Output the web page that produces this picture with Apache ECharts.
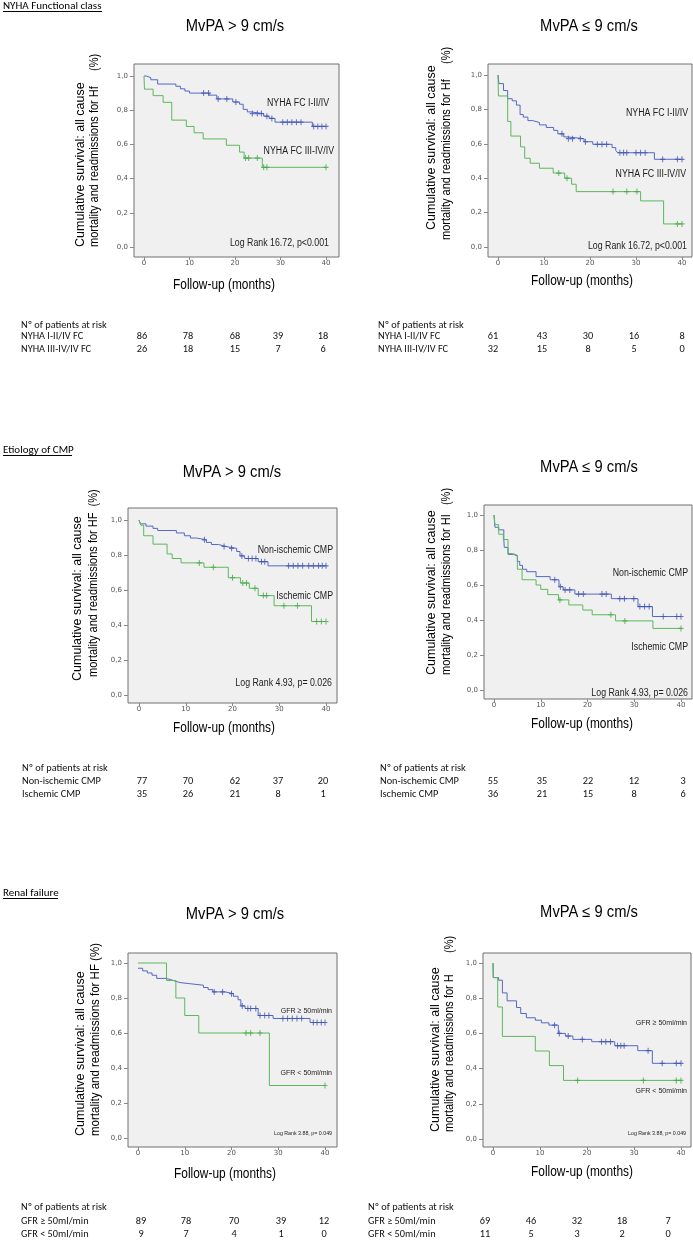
<!DOCTYPE html>
<html><head><meta charset="utf-8">
<script src="https://cdn.jsdelivr.net/npm/echarts@6/dist/echarts.min.js"></script>
<style>html,body{margin:0;padding:0;background:#fff}#c{width:693px;height:1240px}</style>
</head><body><div id="c"></div>
<script>
// ---------- DATA ----------
const xTicks = [0, 10, 20, 30, 40];
const yTicks = [0, 0.2, 0.4, 0.6, 0.8, 1.0];

// Panel 1: NYHA, MvPA > 9
const p1Blue = [[0,1],[0.5,0.99],[1.5,0.978],[3,0.953],[7,0.94],[8,0.925],[9,0.912],[10,0.9],[14.3,0.888],[16,0.866],[19.5,0.848],[21,0.835],[21.8,0.805],[22.7,0.79],[23.5,0.78],[26.3,0.765],[27.5,0.752],[28.8,0.73],[37,0.705]];
const p1BlueCens = [13.1,14.2,16.3,18.2,20.2,23.8,24.9,25.8,27,28.1,30.5,31.5,32.5,33.5,34.5,37.3,38.2,39.1,40];
const p1Green = [[0,1],[0.1,0.923],[2,0.885],[4.2,0.846],[6.1,0.742],[9.3,0.705],[11,0.668],[13,0.632],[18.1,0.595],[21,0.555],[22,0.52],[26,0.466]];
const p1GreenCens = [22.3,23,24.9,26.3,27,40];
// Panel 2: NYHA, MvPA <= 9
const p2Blue = [[0,1],[0.2,0.95],[1.2,0.91],[2.1,0.862],[3.1,0.85],[4,0.825],[4.8,0.77],[5.5,0.755],[6.5,0.735],[7.5,0.724],[9,0.71],[10.5,0.695],[12.1,0.678],[13,0.658],[14.3,0.64],[15,0.63],[18.7,0.612],[20.6,0.597],[24.8,0.578],[25.6,0.562],[26,0.548],[34,0.51]];
const p2BlueCens = [13.9,15.3,16.2,17.9,19,21.6,22.6,23.6,26.5,27.3,28,30,31,32,35.8,39,40];
const p2Green = [[0,1],[0.1,0.878],[2.1,0.73],[2.8,0.645],[4.9,0.582],[5.8,0.516],[7,0.487],[9,0.458],[12,0.43],[14.5,0.40],[16,0.365],[17,0.322],[31,0.268],[36,0.134]];
const p2GreenCens = [13.2,15,25,28,30.2,39,40];
// Panel 3: Etiology, MvPA > 9
const p3Blue = [[0,1],[0.3,0.978],[1.5,0.965],[3,0.952],[4,0.94],[8,0.926],[9.7,0.91],[11,0.897],[12.3,0.887],[14.4,0.872],[15.5,0.86],[17,0.849],[18.5,0.838],[20.9,0.82],[21.6,0.795],[22.6,0.78],[25.5,0.762],[27.6,0.738]];
const p3BlueCens = [14,18.2,19.8,22,23.4,24.2,25,26.2,26.9,32,33,34,35,36.3,37.3,38.4,39.2,40];
const p3Green = [[0,1],[0.4,0.97],[1,0.91],[3,0.862],[6,0.806],[7.1,0.78],[9,0.755],[13.9,0.73],[19.1,0.67],[21.7,0.64],[23.6,0.61],[25.5,0.568],[28.9,0.51],[36.9,0.42]];
const p3GreenCens = [12.9,15.9,20,22.2,23,24.8,26.6,27.3,31,33.9,38,39,40];
// Panel 4: Etiology, MvPA <= 9
const p4Blue = [[0,1],[0.2,0.93],[1,0.915],[2.1,0.86],[2.2,0.815],[3,0.775],[4.2,0.765],[5,0.735],[5.5,0.712],[6.1,0.69],[7,0.676],[9,0.648],[12,0.63],[13.9,0.59],[14.8,0.572],[17.3,0.548],[25.1,0.522],[30.8,0.477],[33.9,0.42]];
const p4BlueCens = [13,14.2,15.2,16.2,18.1,19.1,23.1,24,26.9,27.9,29.9,31.2,32.2,33.2,36.2,39.1,40];
const p4Green = [[0,1],[0.2,0.945],[1,0.89],[2,0.86],[3,0.78],[4,0.77],[5,0.69],[6,0.63],[9,0.6],[10,0.575],[11.5,0.545],[13.8,0.515],[16,0.486],[19,0.457],[21,0.43],[26,0.395],[34,0.352]];
const p4GreenCens = [14.1,25,28,40];
// Panel 5: Renal, MvPA > 9
const p5Blue = [[0,0.97],[1,0.955],[2,0.943],[3,0.93],[4,0.912],[6,0.905],[7,0.896],[8,0.888],[9,0.882],[11,0.873],[14,0.86],[15,0.848],[16,0.835],[18.6,0.825],[20.4,0.81],[21.4,0.79],[22,0.755],[22.9,0.74],[25.7,0.70],[28.9,0.683],[36.8,0.66]];
const p5BlueCens = [16.3,18.1,20,22.3,23.5,24.1,25.2,26.1,27.1,28,31,32,33,34,35,37.5,38.3,39.2,40];
const p5Green = [[0,1],[6.1,0.9],[8.1,0.8],[10,0.7],[13,0.6],[28.1,0.3]];
const p5GreenCens = [23.1,24.1,26.1,40];
// Panel 6: Renal, MvPA <= 9
const p6Blue = [[0,1],[0.05,0.917],[1.2,0.902],[2,0.83],[3,0.785],[5,0.747],[5.9,0.713],[7.1,0.689],[9,0.675],[10.3,0.66],[11.9,0.647],[13.9,0.60],[15.4,0.585],[17,0.566],[21,0.553],[25.9,0.53],[30.8,0.502],[33.9,0.43]];
const p6BlueCens = [13.1,14.1,16,19,23.1,24,25,26.5,27.2,27.9,33,36,39,40];
const p6Green = [[0,1],[0.05,0.917],[1,0.75],[2,0.583],[9,0.5],[12,0.417],[15,0.333]];
const p6GreenCens = [18,32,39,40];

// Risk tables
const riskHeader = 'Nº of patients at risk';
const s1Groups = ['NYHA I-II/IV FC', 'NYHA III-IV/IV FC'];
const s1LeftA = [86,78,68,39,18], s1LeftB = [26,18,15,7,6];
const s1RightA = [61,43,30,16,8], s1RightB = [32,15,8,5,0];
const s2Groups = ['Non-ischemic CMP', 'Ischemic CMP'];
const s2LeftA = [77,70,62,37,20], s2LeftB = [35,26,21,8,1];
const s2RightA = [55,35,22,12,3], s2RightB = [36,21,15,8,6];
const s3Groups = ['GFR ≥ 50ml/min', 'GFR < 50ml/min'];
const s3LeftA = [89,78,70,39,12], s3LeftB = [9,7,4,1,0];
const s3RightA = [69,46,32,18,7], s3RightB = [11,5,3,2,0];

// Texts
const sectionTitles = ['NYHA Functional class', 'Etiology of CMP', 'Renal failure'];
const panelTitles = ['MvPA > 9 cm/s', 'MvPA ≤ 9 cm/s'];
const xTitle = 'Follow-up (months)';
const yTitle1 = 'Cumulative survival: all cause';
const yTitle2 = ['mortality and readmissions for Hf     (%)', 'mortality and readmissions for Hf     (%)',
  'mortality and readmissions for HF  (%)', 'mortality and readmissions for HI   (%)',
  'mortality and readmissions for HF (%)', 'mortality and readmissions for H       (%)'];
const groupLabels = [
  ['NYHA FC I-II/IV','NYHA FC III-IV/IV'], ['NYHA FC I-II/IV','NYHA FC III-IV/IV'],
  ['Non-ischemic CMP','Ischemic CMP'], ['Non-ischemic CMP','Ischemic CMP'],
  ['GFR ≥ 50ml/min','GFR < 50ml/min'], ['GFR ≥ 50ml/min','GFR < 50ml/min']];
const logRanks = ['Log Rank 16.72, p<0.001','Log Rank 16.72, p<0.001','Log Rank 4.93, p= 0.026','Log Rank 4.93, p= 0.026','Log Rank 3.88, p= 0.049','Log Rank 3.88, p= 0.049'];

// ---------- LAYOUT ----------
const panels = [
  {box:[134,64,339,257], x0:144, x40:326, y1:76, y0:247},
  {box:[488,64,692,257], x0:498, x40:682, y1:75, y0:247},
  {box:[128,508,337,703], x0:139, x40:326, y1:520, y0:695},
  {box:[484,505,692,699], x0:494, x40:681, y1:515, y0:690},
  {box:[128,953,337,1147], x0:138, x40:325, y1:963, y0:1138},
  {box:[483,953,691,1147], x0:493, x40:681, y1:963, y0:1139}
];
const curves = [
  [p1Blue,p1BlueCens,p1Green,p1GreenCens],[p2Blue,p2BlueCens,p2Green,p2GreenCens],
  [p3Blue,p3BlueCens,p3Green,p3GreenCens],[p4Blue,p4BlueCens,p4Green,p4GreenCens],
  [p5Blue,p5BlueCens,p5Green,p5GreenCens],[p6Blue,p6BlueCens,p6Green,p6GreenCens]];

const BLUE = '#5568c2', BLUE_C = '#3f52b0', GREEN = '#5cb85c', GREEN_C = '#45a845';
const ARIAL = '"Liberation Sans", Arial, sans-serif';
const CALIBRI = 'Carlito, Lato, "Open Sans", sans-serif';
const PLUS = 'path://M4,0H6V4H10V6H6V10H4V6H0V4H4Z';

function kmLine(steps, cens) {
  const last = steps[steps.length - 1];
  const tEnd = Math.max(last[0], ...cens);
  return steps.concat([[tEnd, last[1]]]);
}
function censorPts(steps, cens) {
  return cens.map(t => { let s = steps[0][1]; for (const p of steps) if (p[0] <= t) s = p[1]; return [t, s]; });
}

const grids = [], xAxes = [], yAxes = [], series = [];
panels.forEach((p, i) => {
  const [L, T, R, B] = p.box;
  const kx = (p.x40 - p.x0) / 40, ky = (p.y0 - p.y1);
  grids.push({left: L, top: T, width: R - L, height: B - T, show: true,
    backgroundColor: '#f0f0f0', borderColor: '#707070', borderWidth: 1});
  xAxes.push({gridIndex: i, type: 'value', min: -(p.x0 - L) / kx, max: 40 + (R - p.x40) / kx,
    axisLine: {show: false, onZero: false}, splitLine: {show: false},
    axisTick: {show: true, customValues: xTicks, length: 3, lineStyle: {color: '#888'}},
    axisLabel: {customValues: xTicks, fontSize: 7, color: '#555', margin: 3, fontFamily: 'DejaVu Sans'}});
  yAxes.push({gridIndex: i, type: 'value', min: -(B - p.y0) / ky, max: 1 + (p.y1 - T) / ky,
    axisLine: {show: false, onZero: false}, splitLine: {show: false},
    axisTick: {show: true, customValues: yTicks, length: 4, lineStyle: {color: '#888'}},
    axisLabel: {customValues: yTicks, fontSize: 7, color: '#555', margin: 6, fontFamily: 'DejaVu Sans',
      formatter: v => v.toFixed(1).replace('.', ',')}});
  const [bS, bC, gS, gC] = curves[i];
  [[bS, bC, BLUE, BLUE_C], [gS, gC, GREEN, GREEN_C]].forEach(([s, c, col, ccol]) => {
    series.push({type: 'line', xAxisIndex: i, yAxisIndex: i, data: kmLine(s, c), step: 'end',
      symbol: 'none', lineStyle: {color: col, width: 1}, silent: true, z: 2});
    series.push({type: 'scatter', xAxisIndex: i, yAxisIndex: i, data: censorPts(s, c),
      symbol: PLUS, symbolSize: [5, 6], itemStyle: {color: ccol}, silent: true, z: 3});
  });
});

// ---------- GRAPHIC TEXTS ----------
const G = [];
function txt(x, y, text, o) {
  o = o || {};
  G.push({type: 'text', x: x, y: y, rotation: o.rot || 0, scaleX: o.sx || 1, scaleY: o.sy || 1, silent: true,
    style: {text: text, fontSize: o.size || 10, fontFamily: o.family || ARIAL, fill: o.color || '#000',
      align: o.align || 'left', verticalAlign: 'middle'}});
}
function uline(x1, x2, y) {
  G.push({type: 'line', silent: true, shape: {x1: x1, y1: y, x2: x2, y2: y}, style: {stroke: '#000', lineWidth: 1}});
}
// section headings
[[6, 11, 102], [450, 455, 72], [893, 898, 58]].forEach(([y, uy, ux], k) => {
  txt(3, y, sectionTitles[k], {family: CALIBRI, size: 11});
  uline(3, ux, uy + 0.5);
});
// panel titles
const titlePos = [[235,27],[589,27],[232,473],[589,468],[235,915],[589,913]];
titlePos.forEach(([x, y], i) => txt(x, y, panelTitles[i % 2], {size: 16, sx: 0.92, align: 'center'}));
// x titles
const xtPos = [[224,285],[582,281],[224,728],[582,724],[225,1174],[582,1172]];
xtPos.forEach(([x, y]) => txt(x, y, xTitle, {size: 14, sx: 0.85, align: 'center'}));
// y titles (two rotated lines)
const ytPos = [[81,247,95,247],[432,230,447,240],[78,681,94,677],[432,675,447,675],[81,1136,96,1136],[436,1132,450,1132]];
ytPos.forEach(([x1, s1, x2, s2], i) => {
  txt(x1, s1, yTitle1, {size: 12.5, rot: Math.PI / 2, sy: 0.95});
  txt(x2, s2, yTitle2[i], {size: 12.5, rot: Math.PI / 2, sx: i === 4 ? 0.92 : 0.88, sy: 0.95});
});
// group labels & log rank
const glPos = [
  [329,103,334,151,329,243,10,10],[688,113,686,174,687,246,10,10],
  [333,550,333,596,332,683,10,10],[688,573,688,647,688,693,10,10],
  [332,1011,332,1073,332,1133,8,6],[687,1023,687,1091,686,1133,8,6]];
glPos.forEach(([ax, ay, bx, by, lx, ly, fs, ls], i) => {
  txt(ax, ay, groupLabels[i][0], {size: fs, sx: 0.88, align: 'right', color: '#222'});
  txt(bx, by, groupLabels[i][1], {size: fs, sx: 0.88, align: 'right', color: '#222'});
  txt(lx, ly, logRanks[i], {size: ls, sx: 0.88, align: 'right', color: '#222'});
});
// risk tables
const riskLayout = [
  {lx: 21, ys: [325,336,349], xs: [142,188,235,278,323], g: s1Groups, a: s1LeftA, b: s1LeftB},
  {lx: 378, ys: [325,336,349], xs: [493,542,588,634,682], g: s1Groups, a: s1RightA, b: s1RightB},
  {lx: 22, ys: [768,781,794], xs: [142,188,235,278,323], g: s2Groups, a: s2LeftA, b: s2LeftB},
  {lx: 380, ys: [768,781,794], xs: [493,542,588,634,683], g: s2Groups, a: s2RightA, b: s2RightB},
  {lx: 21, ys: [1207,1221,1234], xs: [141,186,234,281,324], g: s3Groups, a: s3LeftA, b: s3LeftB},
  {lx: 368, ys: [1207,1221,1234], xs: [485,531,577,622,668], g: s3Groups, a: s3RightA, b: s3RightB}];
riskLayout.forEach(r => {
  const o = {family: CALIBRI, size: 10.3, color: '#111'};
  txt(r.lx, r.ys[0], riskHeader, o);
  txt(r.lx, r.ys[1], r.g[0], o);
  txt(r.lx, r.ys[2], r.g[1], o);
  r.xs.forEach((x, k) => {
    txt(x, r.ys[1], String(r.a[k]), Object.assign({align: 'center'}, o));
    txt(x, r.ys[2], String(r.b[k]), Object.assign({align: 'center'}, o));
  });
});

const chart = echarts.init(document.getElementById('c'), null, {renderer: 'canvas'});
chart.setOption({
  animation: false, backgroundColor: '#fff',
  grid: grids, xAxis: xAxes, yAxis: yAxes, series: series,
  graphic: {elements: G}
});
</script></body></html>
